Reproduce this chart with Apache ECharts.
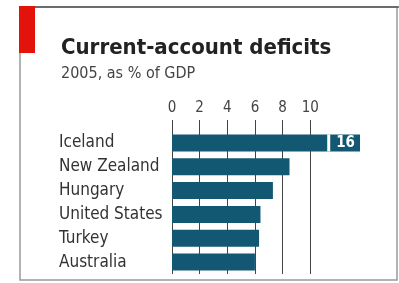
<!DOCTYPE html>
<html>
<head>
<meta charset="utf-8">
<script src="https://cdn.jsdelivr.net/npm/echarts@6/dist/echarts.min.js"></script>
<style>
  html, body { margin: 0; padding: 0; background: #fff; }
  #showChart { width: 399px; height: 283px; }
</style>
</head>
<body>
<div id="showChart"></div>
<script>
// data
var countries = ['Iceland', 'New Zealand', 'Hungary', 'United States', 'Turkey', 'Australia'];
var deficits = [16, 8.5, 7.3, 6.4, 6.3, 6.0];
var tickValues = [0, 2, 4, 6, 8, 10];
var axisCut = 13.6; // Iceland bar is cut off here and labelled

function showChart(){
    var dom = document.getElementById("showChart");
    var myChart = echarts.init(dom);
    var font = '"Liberation Sans Narrow", "DejaVu Sans Condensed", sans-serif';

    option = {
        animation: false,
        backgroundColor: '#fff',
        title: {
            text: 'Current-account deficits',
            subtext: '2005, as % of GDP',
            left: 56,
            top: 32,
            itemGap: 7,
            textStyle: {
                fontFamily: font,
                fontWeight: 'bold',
                fontSize: 22,
                color: '#222'
            },
            subtextStyle: {
                fontFamily: font,
                fontSize: 16,
                color: '#444'
            }
        },
        graphic: [{
            type: 'rect',
            shape: { x: 20, y: 7, width: 377, height: 273 },
            style: { fill: 'none', stroke: '#999', lineWidth: 1.5 },
            silent: true
        }, {
            type: 'line',
            shape: { x1: 19, y1: 7, x2: 399, y2: 7 },
            style: { stroke: '#555', lineWidth: 1.5 },
            silent: true
        }, {
            type: 'rect',
            shape: { x: 19, y: 6, width: 16, height: 47 },
            style: { fill: '#e3120b' },
            silent: true
        }],
        grid: {
            left: 172,
            right: 39,
            top: 131,
            bottom: 9
        },
        xAxis: {
            type: 'value',
            position: 'top',
            min: 0,
            max: axisCut,
            axisLine: { show: false },
            axisTick: {
                show: true,
                length: 11,
                customValues: tickValues,
                lineStyle: { color: '#444', width: 1 }
            },
            axisLabel: {
                customValues: tickValues,
                margin: 15,
                fontFamily: font,
                fontSize: 15,
                color: '#444'
            },
            splitLine: {
                show: true,
                lineStyle: { color: '#444', width: 1 }
            }
        },
        yAxis: {
            type: 'category',
            inverse: true,
            data: countries,
            axisLine: { show: false },
            axisTick: { show: false },
            axisLabel: {
                align: 'left',
                margin: 113,
                fontFamily: font,
                fontSize: 17,
                color: '#333'
            }
        },
        series: [{
            type: 'bar',
            data: deficits,
            barWidth: 17,
            clip: true,
            itemStyle: { color: '#125873' },
            label: {
                show: true,
                position: 'insideRight',
                distance: 0,
                formatter: function (p) {
                    return p.value > axisCut ? '{z|}{v|' + p.value + '}' : '';
                },
                rich: {
                    z: { width: 3, height: 17, backgroundColor: '#fff' },
                    v: {
                        color: '#fff',
                        fontFamily: font,
                        fontWeight: 'bold',
                        fontSize: 15,
                        padding: [0, 5, 0, 6]
                    }
                }
            }
        }]
    };

    if (option && typeof option === "object") {
        myChart.setOption(option, true);
    }

    window.addEventListener("resize", function () {
        myChart.resize();
    })
}
showChart();
</script>
</body>
</html>
